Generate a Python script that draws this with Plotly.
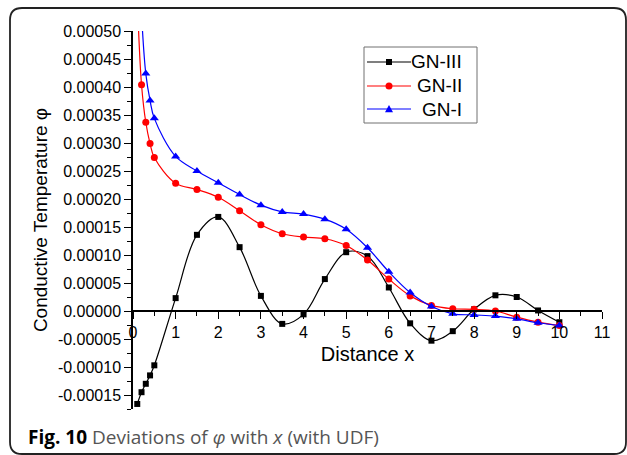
import plotly.graph_objects as go

# ---- data ----
x_gn3 = [0.1, 0.2, 0.3, 0.4, 0.5, 1.0, 1.5, 2.0, 2.5, 3.0, 3.5, 4.0, 4.5, 5.0, 5.5, 6.0, 6.5, 7.0, 7.5, 8.0, 8.5, 9.0, 9.5, 10.0]
y_gn3 = [-0.000166, -0.000145, -0.000130, -0.000115, -0.000097, 0.000023, 0.000136, 0.000168, 0.000114, 0.000027,
         -0.000023, -0.000006, 0.000057, 0.000105, 0.000098, 0.000042, -0.000022, -0.000053, -0.000036, 0.000003,
         0.000028, 0.000025, 0.000001, -0.000020]

x_gn2 = [0.1, 0.2, 0.3, 0.4, 0.5, 1.0, 1.5, 2.0, 2.5, 3.0, 3.5, 4.0, 4.5, 5.0, 5.5, 6.0, 6.5, 7.0, 7.5, 8.0, 8.5, 9.0, 9.5, 10.0]
y_gn2 = [0.000560, 0.000404, 0.000337, 0.000299, 0.000274, 0.000228, 0.000217, 0.000203, 0.000179, 0.000154,
         0.000138, 0.000132, 0.000129, 0.000117, 0.000091, 0.000057, 0.000027, 0.000010, 0.000004, 0.000003,
         0.000000, -0.000011, -0.000020, -0.000026]

x_gn1 = [0.2, 0.3, 0.4, 0.5, 1.0, 1.5, 2.0, 2.5, 3.0, 3.5, 4.0, 4.5, 5.0, 5.5, 6.0, 6.5, 7.0, 7.5, 8.0, 8.5, 9.0, 9.5, 10.0]
y_gn1 = [0.000530, 0.000424, 0.000376, 0.000344, 0.000276, 0.000250, 0.000229, 0.000208, 0.000189, 0.000177,
         0.000173, 0.000164, 0.000146, 0.000113, 0.000070, 0.000033, 0.000008, -0.000005, -0.000007, -0.000009,
         -0.000014, -0.000021, -0.000026]

series_names = ["GN-III", "GN-II", "GN-I"]
series_colors = ["black", "#ff0000", "#0000ff"]
series_symbols = ["square", "circle", "triangle-up"]

y_tick_vals = [0.0005, 0.00045, 0.0004, 0.00035, 0.0003, 0.00025, 0.0002, 0.00015, 0.0001, 0.00005, 0.0,
               -0.00005, -0.0001, -0.00015]
y_tick_text = ["0.00050", "0.00045", "0.00040", "0.00035", "0.00030", "0.00025", "0.00020", "0.00015",
               "0.00010", "0.00005", "0.00000", "-0.00005", "-0.00010", "-0.00015"]
x_tick_vals = list(range(0, 12))
x_tick_text = [str(v) for v in x_tick_vals]

Y_MIN, Y_MAX = -0.000175, 0.0005
X_MIN, X_MAX = 0, 11

# ---- figure ----
W, H = 627, 455
L, R, T, B = 133, 25, 31, 46
pw, ph = W - L - R, H - T - B


def px2x(p):
    return (p - L) / pw


def px2y(p):
    return (H - B - p) / ph


fig = go.Figure()
series = [(x_gn3, y_gn3, 6), (x_gn2, y_gn2, 7), (x_gn1, y_gn1, 8)]
for (xs, ys, ms), name, col, sym in zip(series, series_names, series_colors, series_symbols):
    fig.add_trace(go.Scatter(x=xs, y=ys, name=name, mode="lines+markers", showlegend=False,
                             line=dict(color=col, width=1.2, shape="spline", smoothing=1.0),
                             marker=dict(symbol=sym, size=ms, color=col)))

xpos = (0 - Y_MIN) / (Y_MAX - Y_MIN)

fig.update_layout(
    width=W, height=H, autosize=False,
    margin=dict(l=L, r=R, t=T, b=B, pad=0),
    paper_bgcolor="white", plot_bgcolor="white",
    font=dict(family="Liberation Sans, Arial, sans-serif", color="black", size=16),
    showlegend=False,
    xaxis=dict(range=[X_MIN, X_MAX], anchor="free", position=xpos,
               showgrid=False, zeroline=False, showline=True, linecolor="black", linewidth=1.5,
               ticks="outside", ticklen=7, tickwidth=1.2, tickcolor="black",
               tickvals=x_tick_vals, ticktext=x_tick_text, tickfont=dict(size=16),
               minor=dict(dtick=0.5, ticks="outside", ticklen=4, tickwidth=1.2, tickcolor="black"),
               title=dict(text="Distance x", font=dict(size=20), standoff=6)),
    yaxis=dict(range=[Y_MIN, Y_MAX], showgrid=False, zeroline=False, showline=True,
               linecolor="black", linewidth=1.5,
               ticks="outside", ticklen=7, tickwidth=1.2, tickcolor="black",
               tickvals=y_tick_vals, ticktext=y_tick_text, tickfont=dict(size=16),
               minor=dict(dtick=0.000025, tick0=0, ticks="outside", ticklen=4, tickwidth=1.2, tickcolor="black"),
               title=dict(text="Conductive Temperature φ", font=dict(size=19), standoff=5)),
)

# ---- manual legend (box, line samples, symbols, right-aligned labels) ----
lg_x0, lg_x1, lg_y0, lg_y1 = 364, 477, 47, 123
fig.add_shape(type="rect", xref="paper", yref="paper",
              x0=px2x(lg_x0), x1=px2x(lg_x1), y0=px2y(lg_y1), y1=px2y(lg_y0),
              line=dict(color="#707070", width=1), fillcolor="white", layer="above")
row_y = [62, 86, 109]
ln_x0, ln_x1, mk_x = 367, 411, 389
for ry, name, col, sym in zip(row_y, series_names, series_colors, series_symbols):
    fig.add_shape(type="line", xref="paper", yref="paper",
                  x0=px2x(ln_x0), x1=px2x(ln_x1), y0=px2y(ry), y1=px2y(ry),
                  line=dict(color=col, width=1.2), layer="above")
    if sym == "square":
        s = 3
        fig.add_shape(type="rect", xref="paper", yref="paper",
                      x0=px2x(mk_x - s), x1=px2x(mk_x + s), y0=px2y(ry + s), y1=px2y(ry - s),
                      line=dict(width=0), fillcolor=col, layer="above")
    elif sym == "circle":
        s = 3.5
        fig.add_shape(type="circle", xref="paper", yref="paper",
                      x0=px2x(mk_x - s), x1=px2x(mk_x + s), y0=px2y(ry + s), y1=px2y(ry - s),
                      line=dict(width=0), fillcolor=col, layer="above")
    else:
        s = 4
        tri = (f"M {px2x(mk_x - s)} {px2y(ry + s * 0.8)} L {px2x(mk_x + s)} {px2y(ry + s * 0.8)} "
               f"L {px2x(mk_x)} {px2y(ry - s)} Z")
        fig.add_shape(type="path", xref="paper", yref="paper", path=tri,
                      line=dict(width=0), fillcolor=col, layer="above")
    fig.add_annotation(xref="paper", yref="paper", x=px2x(464), y=px2y(ry), xanchor="right", yanchor="middle",
                       showarrow=False, text=name, font=dict(size=19, color="black"))

# rounded frame around figure
x0, x1, y0, y1 = 10, 626, 8, 454
r = 12
path = (f"M {px2x(x0 + r)} {px2y(y0)} L {px2x(x1 - r)} {px2y(y0)} "
        f"Q {px2x(x1)} {px2y(y0)} {px2x(x1)} {px2y(y0 + r)} "
        f"L {px2x(x1)} {px2y(y1 - r)} Q {px2x(x1)} {px2y(y1)} {px2x(x1 - r)} {px2y(y1)} "
        f"L {px2x(x0 + r)} {px2y(y1)} Q {px2x(x0)} {px2y(y1)} {px2x(x0)} {px2y(y1 - r)} "
        f"L {px2x(x0)} {px2y(y0 + r)} Q {px2x(x0)} {px2y(y0)} {px2x(x0 + r)} {px2y(y0)} Z")
fig.add_shape(type="path", path=path, xref="paper", yref="paper",
              line=dict(color="#222222", width=1.8), fillcolor="rgba(0,0,0,0)", layer="above")

fig.add_annotation(xref="paper", yref="paper", x=px2x(26), y=px2y(437), xanchor="left", yanchor="middle",
                   showarrow=False,
                   text="<b>Fig. 10</b> <span style='color:#555555'>Deviations of <i>φ</i> with <i>x</i> (with UDF)</span>",
                   font=dict(family="Open Sans, sans-serif", size=19, color="black"))

fig.write_html("out.html")
